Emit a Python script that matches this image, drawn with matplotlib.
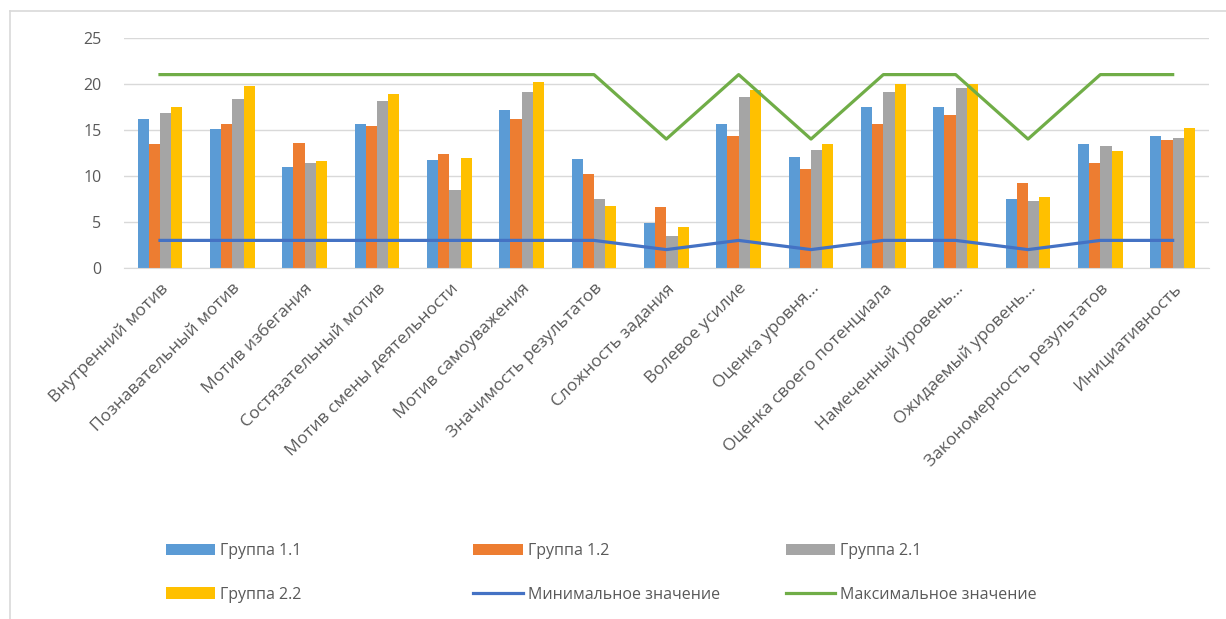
from matplotlib import pyplot as plt
from matplotlib.lines import Line2D
import numpy as np

plt.rcParams['font.family'] = ['Open Sans', 'DejaVu Sans']

categories = [
    "Внутренний мотив", "Познавательный мотив", "Мотив избегания",
    "Состязательный мотив", "Мотив смены деятельности", "Мотив самоуважения",
    "Значимость результатов", "Сложность задания", "Волевое усилие",
    "Оценка уровня...", "Оценка своего потенциала", "Намеченный уровень...",
    "Ожидаемый уровень...", "Закономерность результатов", "Инициативность",
]

group_11 = [16.2, 15.1, 11.0, 15.6, 11.7, 17.2, 11.8, 4.9, 15.6, 12.1, 17.5, 17.5, 7.5, 13.5, 14.3]
group_12 = [13.5, 15.6, 13.6, 15.4, 12.4, 16.2, 10.2, 6.6, 14.3, 10.7, 15.6, 16.6, 9.2, 11.4, 13.9]
group_21 = [16.8, 18.4, 11.4, 18.1, 8.5, 19.1, 7.5, 3.5, 18.6, 12.8, 19.1, 19.5, 7.3, 13.2, 14.1]
group_22 = [17.5, 19.8, 11.6, 18.9, 11.9, 20.2, 6.7, 4.4, 19.3, 13.5, 20.0, 20.0, 7.7, 12.7, 15.2]
min_vals = [3, 3, 3, 3, 3, 3, 3, 2, 3, 2, 3, 3, 2, 3, 3]
max_vals = [21, 21, 21, 21, 21, 21, 21, 14, 21, 14, 21, 21, 14, 21, 21]

bar_series = [
    ("Группа 1.1", group_11, "#5B9BD5"),
    ("Группа 1.2", group_12, "#ED7D31"),
    ("Группа 2.1", group_21, "#A5A5A5"),
    ("Группа 2.2", group_22, "#FFC000"),
]

text_color = "#595959"

fig = plt.figure(figsize=(12.26, 6.19), dpi=100)
ax = fig.add_axes([0.101, 0.567, 0.885, 0.372])

x = np.arange(len(categories))
w = 0.155
handles = {}
for i, (name, vals, col) in enumerate(bar_series):
    handles[name] = ax.bar(x + (i - 1.5) * w, vals, w, color=col, label=name, zorder=2)

handles["min"], = ax.plot(x, min_vals, color="#4472C4", lw=2.3, label="Минимальное значение", zorder=3)
handles["max"], = ax.plot(x, max_vals, color="#70AD47", lw=2.3, label="Максимальное значение", zorder=3)

ax.set_xlim(-0.5, len(categories) - 0.5)
ax.set_ylim(0, 25)
ax.set_yticks(range(0, 26, 5))
ax.yaxis.grid(True, color="#D9D9D9", lw=1)
ax.set_axisbelow(True)
for s in ["top", "right", "left"]:
    ax.spines[s].set_visible(False)
ax.spines["bottom"].set_color("#D9D9D9")
ax.tick_params(axis="both", length=0, colors=text_color, labelsize=11.5)
ax.tick_params(axis="y", pad=16)
ax.tick_params(axis="x", labelsize=12.5, pad=9)
ax.set_xticks(x)
ax.set_xticklabels(categories, rotation=45, ha="right", rotation_mode="anchor")

# legend in three columns, filled row by row like Excel
cols = [
    (0.135, [handles["Группа 1.1"], handles["Группа 2.2"]]),
    (0.386, [handles["Группа 1.2"], handles["min"]]),
    (0.641, [handles["Группа 2.1"], handles["max"]]),
]
for xpos, hs in cols:
    leg = fig.legend(handles=hs, loc="upper left", bbox_to_anchor=(xpos, 0.122),
                     frameon=False, fontsize=11.5, handlelength=3.1, handletextpad=0.3,
                     labelspacing=1.7, borderaxespad=0, borderpad=0)
    for t in leg.get_texts():
        t.set_color(text_color)

# chart area frame, only top and left edges visible in the crop
fig.add_artist(Line2D([0.008, 1.0], [0.982, 0.982], color="#D9D9D9", lw=1.2))
fig.add_artist(Line2D([0.008, 0.008], [0.0, 0.982], color="#D9D9D9", lw=1.2))

fig.savefig("out.png", dpi=100, facecolor="white")
